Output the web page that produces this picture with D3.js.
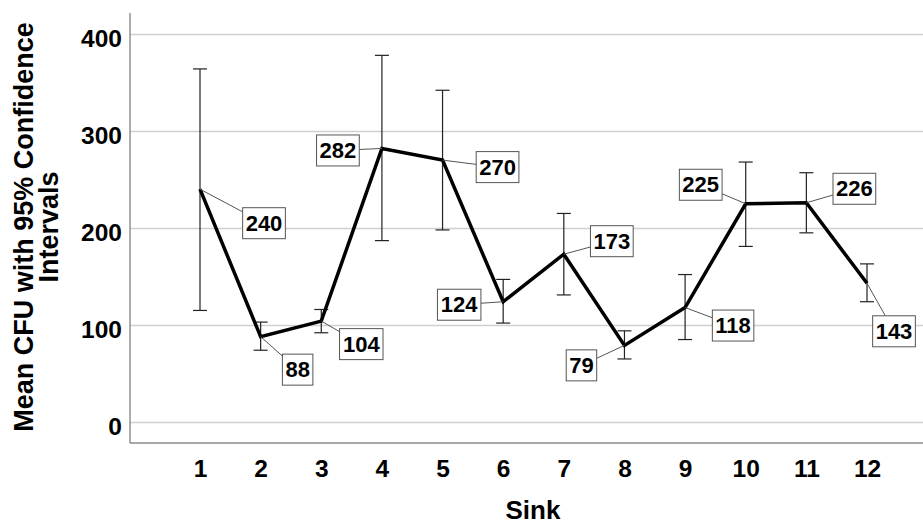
<!DOCTYPE html>
<html>
<head>
<meta charset="utf-8">
<script src="https://cdn.jsdelivr.net/npm/d3@7"></script>
<style>
  body { margin: 0; background: #fff; }
  text { font-family: "Liberation Sans", Arial, sans-serif; font-weight: bold; fill: #000; }
</style>
</head>
<body>
<svg id="chart" width="923" height="525"></svg>
<script>
// data
const sinks = [1, 2, 3, 4, 5, 6, 7, 8, 9, 10, 11, 12];
const means = [240, 88, 104, 282, 270, 124, 173, 79, 118, 225, 226, 143];
const ciLow = [115, 74, 92, 187, 198, 102, 131, 65, 85, 181, 195, 124];
const ciHigh = [364, 103, 116, 378, 342, 147, 215, 94, 152, 268, 257, 163];
const yTicks = [0, 100, 200, 300, 400];

// where each value label sits relative to its point (px)
const labelOffsets = [[64, 34], [37, 33], [40, 23], [-44, 2], [55, 7], [-44, 3],
  [48, -13], [-43, 20], [48, 18], [-45, -19], [48, -14], [27, 48]];

const data = sinks.map((s, i) => ({ sink: s, mean: means[i], lo: ciLow[i], hi: ciHigh[i], off: labelOffsets[i] }));

const frame = { left: 130, right: 923, top: 13, bottom: 443 };

const svg = d3.select("#chart");

const x = d3.scalePoint()
    .domain(sinks)
    .range([200, 867]);

const y = d3.scaleLinear()
    .domain([0, 400])
    .range([422, 34]);

// gridlines + y labels
const yAxis = svg.append("g")
    .attr("transform", `translate(${frame.left},0)`)
    .call(d3.axisLeft(y).tickValues(yTicks).tickSize(-(frame.right - frame.left)).tickPadding(8));
yAxis.select(".domain").remove();
yAxis.selectAll(".tick line").attr("stroke", "#d0d0d0").attr("stroke-width", 1.3);
yAxis.selectAll(".tick text")
    .attr("fill", "#000")
    .style("font-size", "24.5px")
    .attr("dy", "0.5em");

// x labels
const xAxis = svg.append("g")
    .attr("transform", `translate(0,${frame.bottom})`)
    .call(d3.axisBottom(x).tickSize(0).tickPadding(17));
xAxis.select(".domain").remove();
xAxis.selectAll(".tick text").attr("fill", "#000").style("font-size", "24.5px");

// axis lines
svg.append("line")
    .attr("x1", frame.left).attr("x2", frame.left)
    .attr("y1", frame.top).attr("y2", frame.bottom)
    .attr("stroke", "#777").attr("stroke-width", 1.2);
svg.append("line")
    .attr("x1", frame.left).attr("x2", frame.right)
    .attr("y1", frame.bottom).attr("y2", frame.bottom)
    .attr("stroke", "#555").attr("stroke-width", 1.2);

// error bars
const eb = svg.append("g").attr("stroke", "#222").attr("stroke-width", 1.2);
data.forEach(d => {
    const cx = x(d.sink);
    eb.append("line").attr("x1", cx).attr("x2", cx).attr("y1", y(d.lo)).attr("y2", y(d.hi));
    eb.append("line").attr("x1", cx - 7).attr("x2", cx + 7).attr("y1", y(d.lo)).attr("y2", y(d.lo));
    eb.append("line").attr("x1", cx - 7).attr("x2", cx + 7).attr("y1", y(d.hi)).attr("y2", y(d.hi));
});

// mean line
const line = d3.line()
    .x(d => x(d.sink))
    .y(d => y(d.mean));

svg.append("path")
    .datum(data)
    .attr("fill", "none")
    .attr("stroke", "#000")
    .attr("stroke-width", 3.5)
    .attr("stroke-linejoin", "miter")
    .attr("d", line);

// value labels with leader lines
const labels = svg.append("g");
data.forEach(d => {
    const px = x(d.sink), py = y(d.mean);
    const cx = px + d.off[0], cy = py + d.off[1];
    const g = labels.append("g");
    const leader = g.append("line").attr("stroke", "#555").attr("stroke-width", 1);
    const rect = g.append("rect").attr("fill", "#fff").attr("stroke", "#555").attr("stroke-width", 1);
    const t = g.append("text")
        .attr("x", cx).attr("y", cy)
        .attr("text-anchor", "middle")
        .attr("dominant-baseline", "central")
        .style("font-size", "22px")
        .text(d.mean);
    const bb = t.node().getBBox();
    const w = bb.width + 6, h = 31;
    rect.attr("x", cx - w / 2).attr("y", cy - h / 2).attr("width", w).attr("height", h);
    // clip leader at box edge
    const dx = cx - px, dy = cy - py;
    const tx = Math.abs(dx) > 0 ? (Math.abs(dx) - w / 2) / Math.abs(dx) : 1;
    const ty = Math.abs(dy) > 0 ? (Math.abs(dy) - h / 2) / Math.abs(dy) : 1;
    const tt = Math.max(0, Math.max(tx, ty));
    leader.attr("x1", px).attr("y1", py).attr("x2", px + dx * tt).attr("y2", py + dy * tt);
});

// axis titles
svg.append("text")
    .attr("x", 533).attr("y", 519)
    .attr("text-anchor", "middle")
    .style("font-size", "26px")
    .text("Sink");

const yt = svg.append("text")
    .attr("transform", "translate(0,227) rotate(-90)")
    .attr("text-anchor", "middle")
    .style("font-size", "27px");
yt.append("tspan").attr("x", 0).attr("y", 33).text("Mean CFU with 95% Confidence");
yt.append("tspan").attr("x", 0).attr("y", 58).text("Intervals");
</script>
</body>
</html>
